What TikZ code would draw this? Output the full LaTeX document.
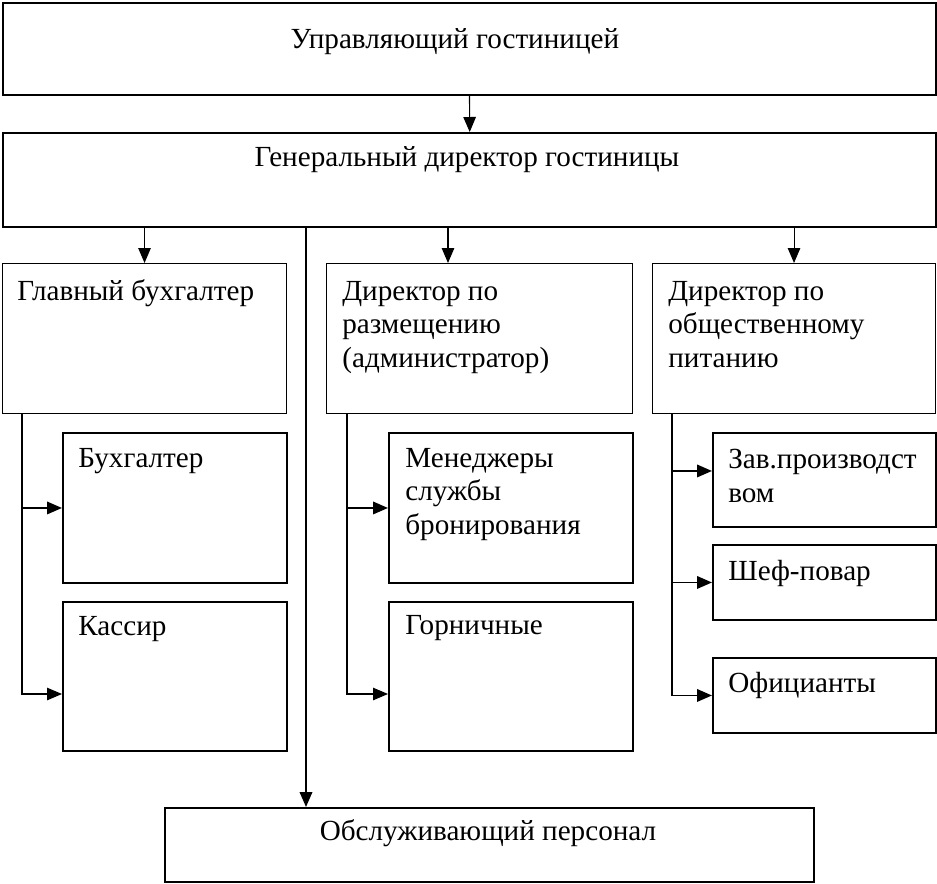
\documentclass[tikz,border=0pt]{standalone}
\usepackage{fontspec}
\setmainfont{Liberation Serif}
\usepackage{tikz}
\usetikzlibrary{arrows.meta}
\usetikzlibrary{calc}

\tikzset{
  box/.style n args={2}{draw, line width=1.1pt, inner sep=0pt, anchor=north west,
    minimum width=#1*0.02cm, minimum height=#2*0.02cm},
  thinbox/.style n args={2}{box={#1}{#2}, line width=0.6pt},
  lbl/.style={anchor=base west, align=left, inner sep=0pt, font=\fontsize{16.6}{19}\selectfont},
  clbl/.style={anchor=base, inner sep=0pt, font=\fontsize{16.6}{19}\selectfont},
  arr/.style={-{Triangle[length=0.3cm, width=0.25cm]}},
}

\begin{document}
\begin{tikzpicture}[x=0.02cm, y=-0.02cm]
    \useasboundingbox (0,0) rectangle (937,883);

    % top levels
    \node[box={933}{92}] (ctl) at (2,2) {};
    \node[box={933}{94}, line width=1.4pt] (gd) at (2,132) {};
    \node[clbl] (tctl) at (455,48) {Управляющий гостиницей};
    \node[clbl] (tgd) at (467,166) {Генеральный директор гостиницы};

    % directors (base of a multi-line label is its last line)
    \node[thinbox={284}{150}] (gb) at (2,263) {};
    \node[thinbox={306}{150}] (dr) at (326,263) {};
    \node[thinbox={283}{150}] (dp) at (652,263) {};
    \node[lbl] (tgb) at ($(gb.north west)+(15,37)$) {Главный бухгалтер};
    \node[lbl] (tdr) at ($(dr.north west)+(16,104)$) {Директор по\\размещению\\(администратор)};
    \node[lbl] (tdp) at ($(dp.north west)+(16,104)$) {Директор по\\общественному\\питанию};

    % staff
    \node[box={224}{150}] (buh) at (62,432) {};
    \node[box={224}{149}] (kas) at (62,601) {};
    \node[box={244}{150}] (men) at (388,432) {};
    \node[box={244}{149}] (gor) at (388,601) {};
    \node[box={223}{94}] (zav) at (712,432) {};
    \node[box={223}{75}] (shef) at (712,544) {};
    \node[box={223}{75}] (ofic) at (712,657) {};
    \node[box={649}{74}] (obs) at (164,807) {};
    \node[lbl] (tbuh) at ($(buh.north west)+(16,35)$) {Бухгалтер};
    \node[lbl] (tkas) at ($(kas.north west)+(16,34)$) {Кассир};
    \node[lbl] (tmen) at ($(men.north west)+(17,102)$) {Менеджеры\\службы\\бронирования};
    \node[lbl] (tgor) at ($(gor.north west)+(17,33)$) {Горничные};
    \node[lbl] (tzav) at ($(zav.north west)+(16,70)$) {Зав.производст\\вом};
    \node[lbl] (tshef) at ($(shef.north west)+(16,36)$) {Шеф-повар};
    \node[lbl] (tofic) at ($(ofic.north west)+(16,35)$) {Официанты};
    \node[clbl] (tobs) at (488,840) {Обслуживающий персонал};

    % connectors
    \draw[arr, line width=0.6pt] (ctl.south) -- (gd.north);
    \draw[arr, line width=0.6pt] (gd.south -| gb.north) -- (gb.north);
    \draw[arr, line width=0.6pt] (gd.south -| 448,0) -- (dr.north -| 448,0);
    \draw[arr, line width=0.6pt] (gd.south -| dp.north) -- (dp.north);
    \draw[arr, line width=1.1pt] (gd.south -| 306,0) -- (obs.north -| 306,0);

    \draw[arr, line width=0.6pt] (gb.south -| 22,0) |- (kas.west |- 0,694);
    \draw[arr, line width=1.1pt] (buh.west -| 22,0) -- (buh.west);
    \draw[arr, line width=0.6pt] (dr.south -| 347,0) |- (gor.west |- 0,694);
    \draw[arr, line width=1.1pt] (men.west -| 347,0) -- (men.west);
    \draw[arr, line width=1.1pt] (dp.south -| 672,0) |- (ofic.west);
    \draw[arr, line width=1.1pt] ($(zav.west)+(-40,-9)$) -- ($(zav.west)+(0,-9)$);
    \draw[arr, line width=1.1pt] (shef.west -| 672,0) -- (shef.west);
\end{tikzpicture}
\end{document}
